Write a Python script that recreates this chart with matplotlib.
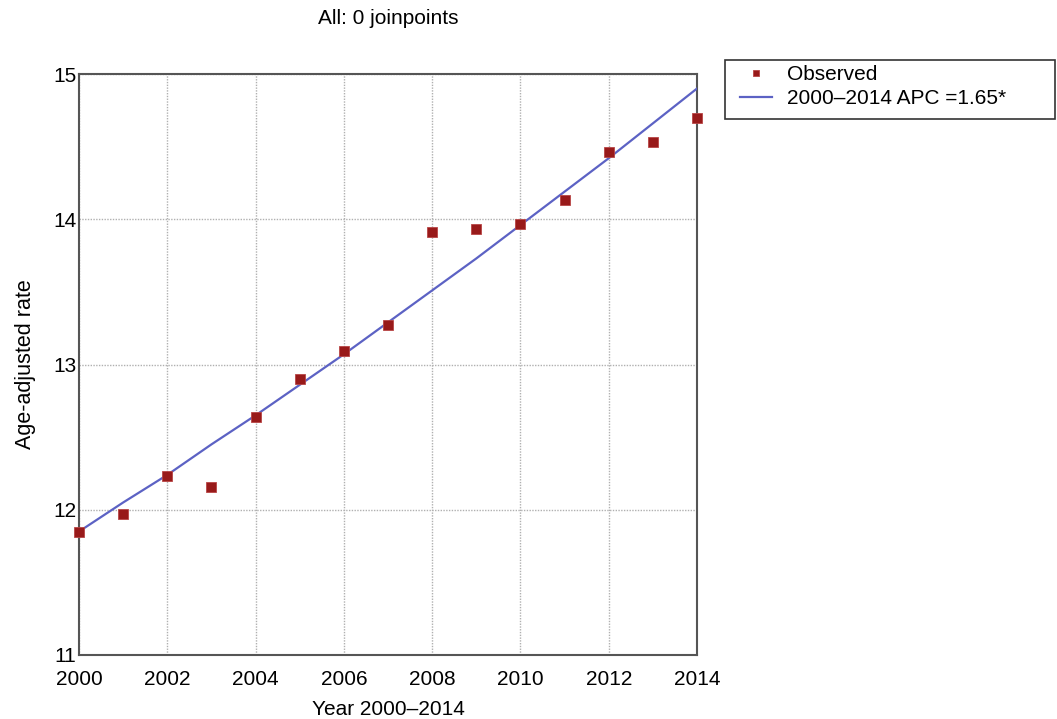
import matplotlib
matplotlib.use("Agg")
import matplotlib.pyplot as plt
from matplotlib.patches import Rectangle

plt.rcParams['font.family'] = ['Liberation Sans', 'DejaVu Sans']

years = [2000, 2001, 2002, 2003, 2004, 2005, 2006, 2007, 2008, 2009, 2010, 2011, 2012, 2013, 2014]
observed = [11.85, 11.97, 12.23, 12.16, 12.64, 12.90, 13.09, 13.27, 13.91, 13.93, 13.97, 14.13, 14.46, 14.53, 14.70]
fitted = [11.85, 12.05, 12.24, 12.45, 12.65, 12.86, 13.07, 13.29, 13.51, 13.73, 13.96, 14.19, 14.42, 14.66, 14.90]
xticks = [2000, 2002, 2004, 2006, 2008, 2010, 2012, 2014]
yticks = [11, 12, 13, 14, 15]
title = "All: 0 joinpoints"
xlabel = "Year 2000\u20132014"
ylabel = "Age-adjusted rate"
obs_label = "Observed"
fit_label = "2000\u20132014 APC =1.65*"

fig = plt.figure(figsize=(10.57, 7.19), dpi=100)
ax = fig.add_axes([79/1057, 1-655/719, (697-79)/1057, (655-74)/719])

ax.grid(True, color='#b0b0b0', linestyle=(0, (1, 1)), linewidth=1.0)
ax.set_axisbelow(True)
ax.plot(years, fitted, color='#5c62c4', linewidth=1.6, label=fit_label, zorder=3)
ax.plot(years, observed, linestyle='none', marker='s', markersize=7,
        markerfacecolor='#981a1a', markeredgecolor='#b84545', markeredgewidth=0.6,
        label=obs_label, zorder=4, clip_on=False)

ax.set_xlim(2000, 2014)
ax.set_ylim(11, 15)
ax.set_xticks(xticks)
ax.set_yticks(yticks)
ax.tick_params(axis='both', length=0, labelsize=15, colors='black')
ax.tick_params(axis='x', pad=11)
ax.tick_params(axis='y', pad=2)
for lab in ax.get_yticklabels():
    lab.set_verticalalignment('center_baseline')
for s in ax.spines.values():
    s.set_color('#555555')
    s.set_linewidth(1.5)

ax.set_xlabel(xlabel, fontsize=15, labelpad=8)
ax.set_ylabel(ylabel, fontsize=15.5, labelpad=12)
fig.text(388/1057, 1-18/719, title, ha='center', va='center', fontsize=15)

handles, labels = ax.get_legend_handles_labels()
order = [1, 0]
leg = fig.legend([handles[i] for i in order], [labels[i] for i in order],
                 loc='upper left', bbox_to_anchor=(740/1057, 1-65/719),
                 fontsize=15, frameon=False, borderpad=0, borderaxespad=0,
                 labelspacing=0.25, handlelength=1.55, handletextpad=0.72,
                 markerscale=0.7)
fig.patches.append(Rectangle((725/1057, 1-119/719), 330/1057, 59/719,
                             transform=fig.transFigure, fill=False,
                             edgecolor='#333333', linewidth=1.2))

fig.savefig("out.png", dpi=100)
